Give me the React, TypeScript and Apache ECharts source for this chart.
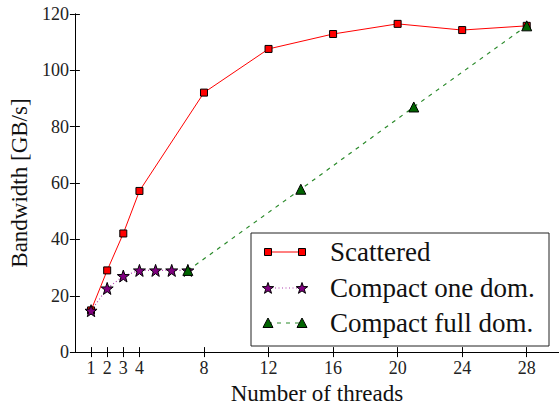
import React, { useEffect, useRef } from "react";
import * as echarts from "echarts";

// ---- data ----
const xTickValues = [1, 2, 3, 4, 8, 12, 16, 20, 24, 28];
const scatteredThreads = [1, 2, 3, 4, 8, 12, 16, 20, 24, 28];
const scatteredBandwidth = [14.8, 29, 42.1, 57.2, 92.1, 107.6, 112.9, 116.5, 114.3, 115.8];
const oneDomThreads = [1, 2, 3, 4, 5, 6, 7];
const oneDomBandwidth = [14.7, 22.6, 27, 29, 29, 29, 29];
const fullDomThreads = [7, 14, 21, 28];
const fullDomBandwidth = [29, 57.8, 87, 115.8];
const legendNames = ["Scattered", "Compact one dom.", "Compact full dom."];

const FONT = "Times New Roman";

function starPts(cx: number, cy: number, r: number): number[][] {
  const pts: number[][] = [];
  for (let i = 0; i < 10; i++) {
    const rr = i % 2 === 0 ? r : r * 0.4;
    const a = -Math.PI / 2 + (i * Math.PI) / 5;
    pts.push([cx + rr * Math.cos(a), cy + rr * Math.sin(a)]);
  }
  return pts;
}
const starSymbol =
  "path://" +
  starPts(50, 52.5, 50)
    .map((p, i) => (i === 0 ? "M" : "L") + p[0].toFixed(2) + " " + p[1].toFixed(2))
    .join(" ") +
  " Z";

const zip = (xs: number[], ys: number[]) => xs.map((x, i) => [x, ys[i]]);

function Chart() {
  const ref = useRef<HTMLDivElement>(null);
  useEffect(() => {
    const chart = echarts.init(ref.current!, null, { renderer: "svg" });

    const axisCommon: any = {
      type: "value",
      axisLine: { show: true, lineStyle: { color: "#000", width: 1 } },
      splitLine: { show: false },
    };

    const lgX = 251, lgY = 233, lgW = 298, lgH = 113;
    const rowY = [252, 288, 323];
    const l1 = 268, l2 = 302, tx = 330;
    const legendEls: any[] = [
      { type: "rect", shape: { x: lgX, y: lgY, width: lgW, height: lgH }, style: { fill: "#fff", stroke: "#222", lineWidth: 1 }, z: 100 },
      { type: "line", shape: { x1: l1, y1: rowY[0], x2: l2, y2: rowY[0] }, style: { stroke: "#ff0000", lineWidth: 1 }, z: 101 },
      { type: "line", shape: { x1: l1, y1: rowY[1], x2: l2, y2: rowY[1] }, style: { stroke: "#b040b0", lineWidth: 1.2, lineDash: [1, 2.5] }, z: 101 },
      { type: "line", shape: { x1: l1, y1: rowY[2], x2: l2, y2: rowY[2] }, style: { stroke: "#2a8a2a", lineWidth: 1.2, lineDash: [4, 5] }, z: 101 },
    ];
    [l1, l2].forEach((x) => {
      legendEls.push({ type: "rect", shape: { x: x - 3.5, y: rowY[0] - 3.5, width: 7, height: 7 }, style: { fill: "#ff0000", stroke: "#000", lineWidth: 1 }, z: 102 });
      legendEls.push({ type: "polygon", shape: { points: starPts(x, rowY[1] + 0.5, 6) }, style: { fill: "#800080", stroke: "#000", lineWidth: 1 }, z: 102 });
      legendEls.push({ type: "polygon", shape: { points: [[x, rowY[2] - 5], [x + 5, rowY[2] + 4.5], [x - 5, rowY[2] + 4.5]] }, style: { fill: "#006400", stroke: "#000", lineWidth: 1 }, z: 102 });
    });
    legendNames.forEach((n, i) =>
      legendEls.push({
        type: "text",
        x: tx,
        y: rowY[i],
        style: { text: n, fontFamily: FONT, fontSize: 27, fill: "#111", verticalAlign: "middle" },
        z: 102,
      })
    );

    chart.setOption({
      animation: false,
      backgroundColor: "#fff",
      grid: { left: 69, top: 14, width: 492, height: 344 },
      xAxis: [
        {
          ...axisCommon,
          position: "bottom",
          min: 0,
          max: 30,
          name: "Number of threads",
          nameLocation: "middle",
          nameGap: 26,
          nameTextStyle: { fontFamily: FONT, fontSize: 23, color: "#111" },
          axisTick: { show: true, inside: true, length: 5, customValues: xTickValues, lineStyle: { color: "#000" } },
          axisLabel: { show: true, customValues: xTickValues, margin: 7, fontFamily: FONT, fontSize: 18, color: "#222" },
        },
        {
          ...axisCommon,
          position: "top",
          min: 0,
          max: 30,
          axisTick: { show: true, inside: true, length: 5, customValues: xTickValues, lineStyle: { color: "#000" } },
          axisLabel: { show: false, customValues: xTickValues },
        },
      ],
      yAxis: [
        {
          ...axisCommon,
          position: "left",
          min: 0,
          max: 120,
          interval: 20,
          name: "Bandwidth [GB/s]",
          nameLocation: "middle",
          nameGap: 42,
          nameTextStyle: { fontFamily: FONT, fontSize: 23, color: "#111" },
          axisTick: { show: true, inside: true, length: 5, lineStyle: { color: "#000" } },
          axisLabel: { show: true, margin: 6, fontFamily: FONT, fontSize: 18, color: "#222" },
        },
        {
          ...axisCommon,
          position: "right",
          min: 0,
          max: 120,
          interval: 20,
          axisTick: { show: true, inside: true, length: 5, lineStyle: { color: "#000" } },
          axisLabel: { show: false },
        },
      ],
      series: [
        {
          type: "line",
          name: legendNames[0],
          data: zip(scatteredThreads, scatteredBandwidth),
          symbol: "rect",
          symbolSize: 7,
          lineStyle: { color: "#ff0000", width: 1 },
          itemStyle: { color: "#ff0000", borderColor: "#000", borderWidth: 1 },
        },
        {
          type: "line",
          name: legendNames[1],
          data: zip(oneDomThreads, oneDomBandwidth),
          symbol: starSymbol,
          symbolSize: 12,
          lineStyle: { color: "#b040b0", width: 1.2, type: [1, 2.5] },
          itemStyle: { color: "#800080", borderColor: "#000", borderWidth: 1 },
        },
        {
          type: "line",
          name: legendNames[2],
          data: zip(fullDomThreads, fullDomBandwidth),
          symbol: "triangle",
          symbolSize: 10,
          lineStyle: { color: "#2a8a2a", width: 1.2, type: [4, 5] },
          itemStyle: { color: "#006400", borderColor: "#000", borderWidth: 1 },
        },
      ],
      graphic: legendEls,
    });
    return () => chart.dispose();
  }, []);

  return <div ref={ref} style={{ position: "absolute", left: 0, top: 0, width: 559, height: 410 }} />;
}

export default function App() {
  return (
    <div>
      <Chart />
    </div>
  );
}
